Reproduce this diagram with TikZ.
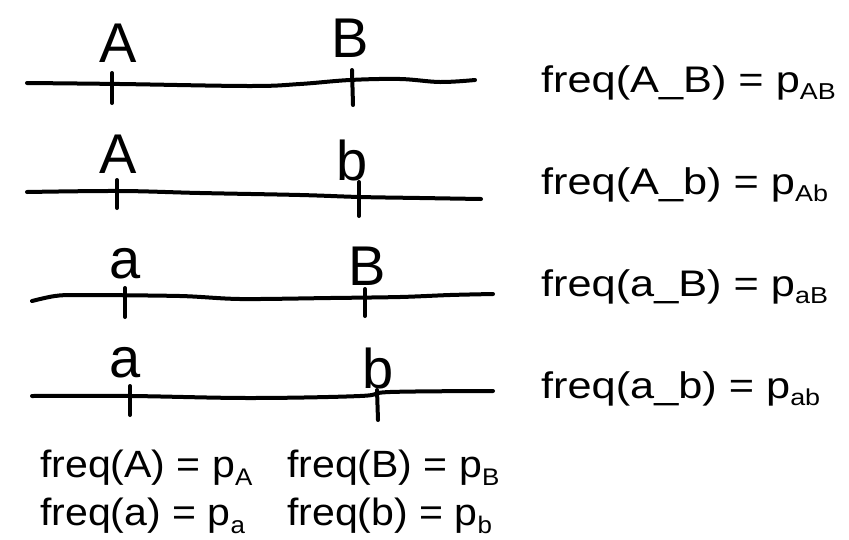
\documentclass[tikz,border=0pt]{standalone}
\usepackage{fontspec}
\setmainfont{Liberation Sans}
\newfontfamily\handfont{Liberation Sans}
\begin{document}
\begin{tikzpicture}[x=1pt,y=-1pt,
  chrom/.style={line width=4pt,line cap=round,line join=round},
  tick/.style={line width=4pt,line cap=round},
  allele/.style={inner sep=0pt,anchor=base,font=\handfont\fontsize{56}{56}\selectfont},
  freqtext/.style={inner sep=0pt,anchor=base west,font=\fontsize{37}{44}\selectfont},
  margtext/.style={inner sep=0pt,anchor=base west,font=\fontsize{38}{44}\selectfont}]
\newcommand{\sbx}[1]{\raisebox{-7pt}{\fontsize{23}{23}\selectfont #1}}
\newcommand{\sbm}[1]{\raisebox{-8pt}{\fontsize{24}{24}\selectfont #1}}
\newcommand{\wide}[1]{\scalebox{1.17}[1]{#1}}
\newcommand{\widem}[1]{\scalebox{1.08}[1]{#1}}
\useasboundingbox (0,0) rectangle (849,539);
% chromosome lines
\draw[chrom] plot[smooth,tension=0.6] coordinates {(27,83) (120,84) (250,86) (300,84) (350,80) (400,79) (440,82) (475,80)};
\draw[chrom] plot[smooth,tension=0.6] coordinates {(27,192) (120,191) (200,193) (300,195) (360,197) (420,198) (481,199)};
\draw[chrom] plot[smooth,tension=0.5] coordinates {(32,301) (55,296) (80,295) (180,296) (240,299) (330,298) (400,297) (450,295) (493,294)};
\draw[chrom] plot[smooth,tension=0.6] coordinates {(32,396) (130,396) (250,398) (360,396) (390,392) (493,391)};
% ticks
\draw[tick] (112,73) -- (112,103);
\draw[tick] (352,70) -- (353,105);
\draw[tick] (117,180) -- (117,208);
\draw[tick] (359,182) -- (359,216);
\draw[tick] (125,288) -- (125,317);
\draw[tick] (365,289) -- (365,316);
\draw[tick] (130,386) -- (130,415);
\draw[tick] (377,390) -- (378,420);
% allele letters
\node[allele] (a1) at (118,62) {A};
\node[allele] (b1) at (350,57) {B};
\node[allele] (a2) at (118,173) {A};
\node[allele] (b2) at (352,180) {b};
\node[allele] (a3) at (125,278) {a};
\node[allele] (b3) at (367,285) {B};
\node[allele] (a4) at (125,377) {a};
\node[allele] (b4) at (378,388) {b};
% haplotype frequencies
\node[freqtext] (f1) at (541,92) {\wide{freq(A\_B) = p\sbx{AB}}};
\node[freqtext] (f2) at (541,194) {\wide{freq(A\_b) = p\sbx{Ab}}};
\node[freqtext] (f3) at (541,296) {\wide{freq(a\_B) = p\sbx{aB}}};
\node[freqtext] (f4) at (541,398) {\wide{freq(a\_b) = p\sbx{ab}}};
% allele frequencies
\node[margtext] (fA) at (40,477) {\widem{freq(A) = p\sbm{A}}};
\node[margtext] (fa) at (40,525) {\widem{freq(a) = p\sbm{a}}};
\node[margtext] (fB) at (287,477) {\widem{freq(B) = p\sbm{B}}};
\node[margtext] (fb) at (287,525) {\widem{freq(b) = p\sbm{b}}};
\end{tikzpicture}
\end{document}
